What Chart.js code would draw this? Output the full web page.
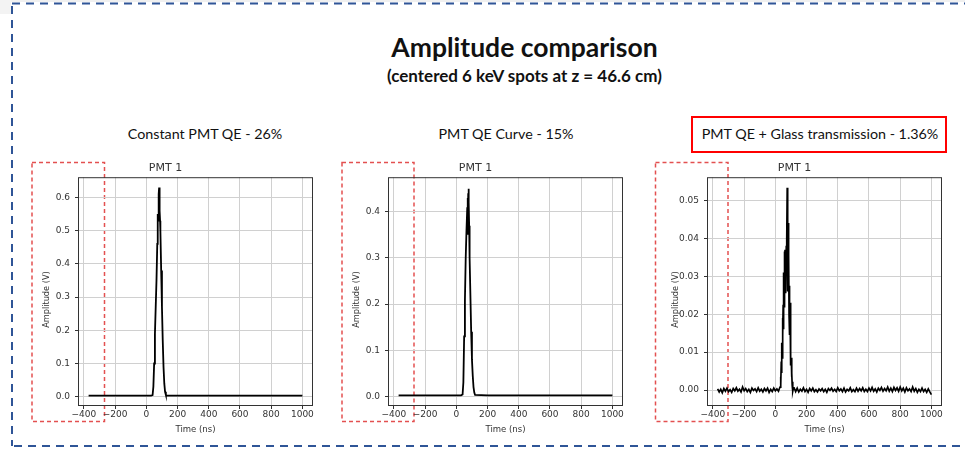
<!DOCTYPE html>
<html>
<head>
<meta charset="utf-8">
<title>Amplitude comparison</title>
<script src="https://cdn.jsdelivr.net/npm/chart.js@4.4.1/dist/chart.umd.min.js"></script>
<style>
  html, body { margin: 0; padding: 0; background: #fff; }
  body { width: 965px; height: 449px; position: relative; overflow: hidden; font-family: Lato, "Open Sans", sans-serif; color: #111; }
  .deco { position: absolute; left: 0; top: 0; }
  .heading { position: absolute; left: 0; width: 1049px; text-align: center; font-weight: bold; white-space: nowrap; }
  #mainTitle { top: 32px; font-size: 26.5px; line-height: 30px; }
  #subTitle { top: 65px; font-size: 17px; line-height: 22px; }
  .caption { position: absolute; top: 124px; font-size: 14.3px; line-height: 20px; text-align: center; white-space: nowrap; transform: translateX(-50%); }
  canvas { position: absolute; }
</style>
</head>
<body>
<svg class="deco" width="965" height="449">
  <rect x="0" y="0" width="965" height="2" fill="#f0f0f0"/>
  <rect x="0" y="0" width="11" height="14" fill="#f3f3f3"/>
  <!-- slide frame -->
  <line x1="12" y1="3.5" x2="965" y2="3.5" stroke="#2f5597" stroke-width="2" stroke-dasharray="8 6"/>
  <line x1="12" y1="6" x2="12" y2="446" stroke="#2f5597" stroke-width="2" stroke-dasharray="8 6"/>
  <line x1="14" y1="446" x2="965" y2="446" stroke="#2f5597" stroke-width="2" stroke-dasharray="8 6"/>
  <!-- tick label highlight boxes -->
  <rect x="32" y="162.5" width="72.5" height="259" fill="none" stroke="#e35050" stroke-width="1.5" stroke-dasharray="4 3"/>
  <rect x="342" y="162.5" width="72" height="259" fill="none" stroke="#e35050" stroke-width="1.5" stroke-dasharray="4 3"/>
  <rect x="655.5" y="162.5" width="72.5" height="259" fill="none" stroke="#e35050" stroke-width="1.5" stroke-dasharray="4 3"/>
  <!-- caption box -->
  <rect x="692" y="117" width="254" height="35" fill="none" stroke="#ff0000" stroke-width="2"/>
</svg>

<div class="heading" id="mainTitle">Amplitude comparison</div>
<div class="heading" id="subTitle">(centered 6 keV spots at z = 46.6 cm)</div>

<div class="caption" style="left:205px">Constant PMT QE - 26%</div>
<div class="caption" style="left:506px">PMT QE Curve - 15%</div>
<div class="caption" style="left:820px">PMT QE + Glass transmission - 1.36%</div>

<canvas id="pmtA" width="307" height="293" style="left:18px; top:153px"></canvas>
<canvas id="pmtB" width="307" height="293" style="left:328px; top:153px"></canvas>
<canvas id="pmtC" width="307" height="293" style="left:647px; top:153px"></canvas>

<script>
// tick positions shared by the three waveforms
const timeTicks = [-400, -200, 0, 200, 400, 600, 800, 1000];
const ampTicksA = [0, 0.1, 0.2, 0.3, 0.4, 0.5, 0.6];
const ampTicksB = [0, 0.1, 0.2, 0.3, 0.4];
const ampTicksC = [0, 0.01, 0.02, 0.03, 0.04, 0.05];

// Constant PMT QE - 26%
const timeA = [-370, -300, -200, -100, 0, 30, 40, 45, 50, 55,
  60, 65, 70, 72, 74, 76, 78, 80, 82, 84,
  86, 88, 90, 95, 100, 105, 110, 115, 120, 125,
  130, 200, 300, 400, 500, 600, 700, 800, 900, 1000];
const ampA = [0.003, 0.003, 0.003, 0.003, 0.003, 0.003, 0.005, 0.03, 0.1, 0.19,
  0.27, 0.35, 0.46, 0.52, 0.55, 0.53, 0.56, 0.61, 0.63, 0.6,
  0.56, 0.53, 0.5, 0.38, 0.27, 0.17, 0.09, 0.04, 0.015, 0.006,
  0.003, 0.003, 0.003, 0.003, 0.003, 0.003, 0.003, 0.003, 0.003, 0.003];

// PMT QE Curve - 15%
const timeB = [-370, -300, -200, -100, 0, 30, 40, 45, 50, 55,
  60, 65, 70, 72, 74, 76, 78, 80, 82, 85,
  90, 95, 100, 105, 110, 115, 120, 200, 300, 400,
  500, 600, 700, 800, 900, 1000];
const ampB = [0.002, 0.002, 0.002, 0.002, 0.002, 0.002, 0.004, 0.03, 0.13, 0.21,
  0.3, 0.36, 0.41, 0.43, 0.35, 0.44, 0.45, 0.42, 0.37, 0.3,
  0.22, 0.14, 0.08, 0.045, 0.02, 0.008, 0.003, 0.002, 0.002, 0.002,
  0.002, 0.002, 0.002, 0.002, 0.002, 0.002];

// PMT QE + Glass transmission - 1.36%
const timeC = [-370, -360, -350, -340, -330, -320, -310, -300, -290, -280,
  -270, -260, -250, -240, -230, -220, -210, -200, -190, -180,
  -170, -160, -150, -140, -130, -120, -110, -100, -90, -80,
  -70, -60, -50, -40, -30, -20, -10, 0, 10, 20,
  25, 30, 33, 36, 38, 40, 42, 44, 46, 48,
  50, 52, 54, 56, 58, 60, 62, 64, 66, 68,
  70, 72, 74, 76, 78, 80, 82, 84, 86, 88,
  90, 92, 94, 96, 98, 100, 102, 104, 106, 108,
  110, 113, 116,
  120, 130, 140, 150, 160, 170, 180, 190, 200, 210,
  220, 230, 240, 250, 260, 270, 280, 290, 300, 310,
  320, 330, 340, 350, 360, 370, 380, 390, 400, 410,
  420, 430, 440, 450, 460, 470, 480, 490, 500, 510,
  520, 530, 540, 550, 560, 570, 580, 590, 600, 610,
  620, 630, 640, 650, 660, 670, 680, 690, 700, 710,
  720, 730, 740, 750, 760, 770, 780, 790, 800, 810,
  820, 830, 840, 850, 860, 870, 880, 890, 900, 910,
  920, 930, 940, 950, 960, 970, 980, 990, 1000];
const ampC = [0.0003, -0.0005, 0.0002, -0.0007, 0.0004, -0.0003, 0.0005, -0.0004, 0.0001, -0.0006,
  0.0004, -0.0002, 0.0006, -0.0003, 0.0002, -0.0005, 0.0008, -0.0002, 0.0004, -0.0004,
  0.0002, -0.0006, 0.0005, -0.0001, 0.0003, -0.0004, 0.0006, -0.0003, 0.0002, -0.0005,
  0.0004, -0.0002, 0.0005, -0.0006, 0.0002, -0.0004, 0.0005, -0.0002, 0.0003, -0.0003,
  0.0003, 0.0008, 0.0035, 0.0015, 0.0075, 0.0045, 0.0125, 0.0085, 0.019, 0.0145,
  0.0225, 0.016, 0.031, 0.022, 0.0365, 0.026, 0.037, 0.029, 0.0335, 0.0255,
  0.038, 0.0305, 0.040, 0.0533, 0.0345, 0.026, 0.044, 0.030, 0.0355, 0.0195,
  0.0275, 0.0145, 0.023, 0.011, 0.015, 0.0065, 0.0085, 0.0035, 0.0045, 0.0012,
  0.0022, -0.0003, 0.0006,
  0.0006, -0.0004, 0.0005, -0.0005, 0.0002, -0.0003, 0.0006, -0.0004, 0.0002, -0.0006,
  0.0004, -0.0002, 0.0005, -0.0004, 0.0001, -0.0005, 0.0003, -0.0002, 0.0004, -0.0004,
  0.0002, -0.0006, 0.0004, -0.0001, 0.0005, -0.0003, 0.0002, -0.0004, 0.0006, -0.0002,
  0.0003, -0.0004, 0.0005, -0.0005, 0.0002, -0.0002, 0.0006, -0.0004, 0.0001, -0.0004,
  0.0005, -0.0003, 0.0004, -0.0002, 0.0006, -0.0004, 0.0002, -0.0004, 0.0005, -0.0002,
  0.0007, -0.0003, 0.0003, -0.0005, 0.0005, -0.0001, 0.0007, -0.0003, 0.0004, -0.0002,
  0.0008, -0.0003, 0.0005, -0.0004, 0.0007, -0.0001, 0.0006, -0.0003, 0.0008, -0.0002,
  0.0005, -0.0005, 0.0006, -0.0002, 0.0003, -0.0004, 0.0008, -0.0003, 0.0004, -0.0006,
  0.0002, -0.0004, 0.0005, -0.0004, 0.0002, -0.0006, 0.0003, -0.0005, -0.0012];

const tickFont = { family: 'DejaVu Sans', size: 9 };
const labelFont = { family: 'DejaVu Sans', size: 8.5 };
const inkColor = '#333';

// closed matplotlib-style frame around the plot area
const axesFrame = {
  id: 'axesFrame',
  afterDatasetsDraw(chart) {
    const { ctx, chartArea: a } = chart;
    ctx.save();
    ctx.strokeStyle = inkColor;
    ctx.lineWidth = 1;
    ctx.strokeRect(a.left + 0.5, a.top + 0.5, a.width - 1, a.height - 1);
    ctx.restore();
  }
};

// rotated y label, sitting a little below the axis centre
const ampLabel = {
  id: 'ampLabel',
  afterDraw(chart) {
    const { ctx, chartArea: a } = chart;
    ctx.save();
    ctx.translate(a.left - 31, (a.top + a.bottom) / 2 + 8);
    ctx.rotate(-Math.PI / 2);
    ctx.font = '8.2px "DejaVu Sans"';
    ctx.fillStyle = inkColor;
    ctx.textAlign = 'center';
    ctx.textBaseline = 'middle';
    ctx.fillText('Amplitude (V)', 0, 0);
    ctx.restore();
  }
};

function drawPanel(id, times, amps, yTicks, yMin, yMax, decimals, lineWidth) {
  const points = times.map((t, i) => ({ x: t, y: amps[i] }));
  return new Chart(document.getElementById(id), {
    type: 'scatter',
    data: {
      datasets: [{
        data: points,
        showLine: true,
        borderColor: '#000',
        borderWidth: lineWidth,
        pointRadius: 0,
        tension: 0
      }]
    },
    options: {
      responsive: false,
      animation: false,
      devicePixelRatio: 1,
      layout: { padding: { left: 0, right: 12, top: 0, bottom: 0 } },
      plugins: {
        legend: { display: false },
        tooltip: { enabled: false },
        title: {
          display: true,
          text: 'PMT 1',
          color: inkColor,
          font: { family: 'DejaVu Sans', size: 11, weight: 'normal' },
          padding: { top: 9, bottom: 2 }
        }
      },
      scales: {
        x: {
          type: 'linear',
          min: -438,
          max: 1068,
          afterBuildTicks: s => { s.ticks = timeTicks.map(v => ({ value: v })); },
          afterFit: s => { s.height = 40; },
          ticks: {
            font: tickFont,
            color: inkColor,
            padding: 0,
            maxRotation: 0,
            callback: v => (v < 0 ? '\u2212' + Math.abs(v) : String(v))
          },
          grid: { color: '#d0d0d0', tickColor: inkColor, tickLength: 3 },
          border: { display: false },
          title: {
            display: true,
            text: 'Time (ns)',
            color: inkColor,
            font: labelFont,
            padding: { top: 0, bottom: 11 }
          }
        },
        y: {
          type: 'linear',
          min: yMin,
          max: yMax,
          afterBuildTicks: s => { s.ticks = yTicks.map(v => ({ value: v })); },
          afterFit: s => { s.width = 60; },
          ticks: {
            font: tickFont,
            color: inkColor,
            padding: 5,
            callback: v => v.toFixed(decimals)
          },
          grid: { color: '#d0d0d0', tickColor: inkColor, tickLength: 3 },
          border: { display: false }
        }
      }
    },
    plugins: [axesFrame, ampLabel]
  });
}

drawPanel('pmtA', timeA, ampA, ampTicksA, -0.028, 0.661, 1, 1.8);
drawPanel('pmtB', timeB, ampB, ampTicksB, -0.021, 0.475, 1, 1.8);
drawPanel('pmtC', timeC, ampC, ampTicksC, -0.0042, 0.0561, 2, 1.7);
</script>
</body>
</html>
